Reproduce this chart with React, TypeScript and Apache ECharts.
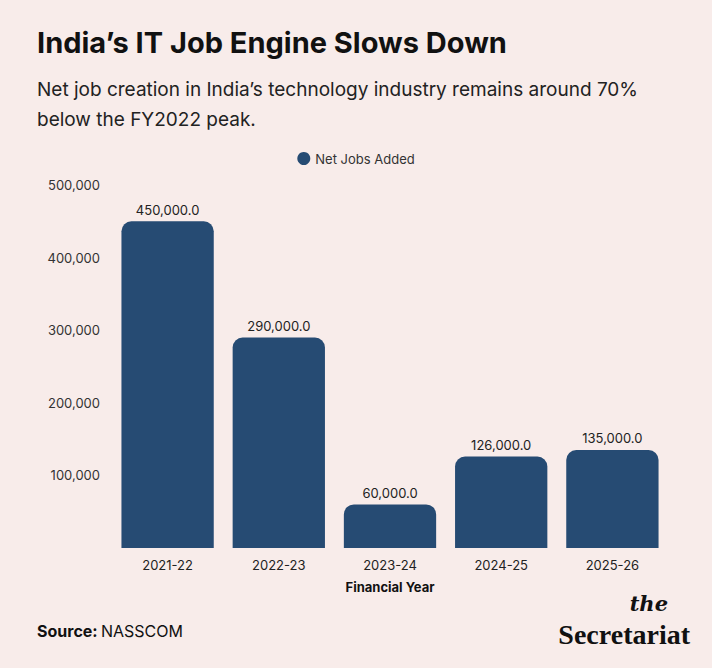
import React from 'react';
import * as echarts from 'echarts';

const categories = ['2021-22', '2022-23', '2023-24', '2024-25', '2025-26'];
const netJobs = [450000, 290000, 60000, 126000, 135000];

const BG = '#f8ecea';
const BAR = '#264b73';
const FONT = 'Inter, "Noto Sans", sans-serif';

export default function App() {
  const ref = React.useRef<HTMLDivElement>(null);

  React.useEffect(() => {
    document.body.style.margin = '0';
    if (!ref.current) return;
    const chart = echarts.init(ref.current, undefined, { renderer: 'svg' });
    const option: echarts.EChartsOption = {
      animation: false,
      backgroundColor: BG,
      textStyle: { fontFamily: FONT },
      legend: {
        top: 147,
        left: 'center',
        icon: 'circle',
        itemWidth: 13,
        itemHeight: 13,
        textStyle: { fontSize: 13, color: '#333' },
        data: ['Net Jobs Added'],
      },
      grid: { left: 112, right: 44, top: 185, bottom: 120 },
      xAxis: {
        type: 'category',
        data: categories,
        name: 'Financial Year',
        nameLocation: 'middle',
        nameGap: 32,
        nameTextStyle: { fontWeight: 'bold', fontSize: 13, color: '#111' },
        axisLine: { show: false },
        axisTick: { show: false },
        axisLabel: { fontSize: 13, color: '#222', margin: 10 },
      },
      yAxis: {
        type: 'value',
        min: 0,
        max: 500000,
        interval: 100000,
        splitLine: { show: false },
        axisLabel: {
          fontSize: 13,
          color: '#333',
          margin: 12,
          formatter: (v: number) => (v === 0 ? '' : v.toLocaleString('en-US')),
        },
      },
      series: [
        {
          name: 'Net Jobs Added',
          type: 'bar',
          data: netJobs,
          barWidth: '83%',
          itemStyle: { color: BAR, borderRadius: [10, 10, 0, 0] },
          label: {
            show: true,
            position: 'top',
            fontSize: 13,
            color: '#222',
            formatter: (p: any) =>
              p.value.toLocaleString('en-US', { minimumFractionDigits: 1, maximumFractionDigits: 1 }),
          },
        },
      ],
      graphic: [
        {
          type: 'text',
          left: 37,
          top: 28,
          style: { text: 'India’s IT Job Engine Slows Down', fontSize: 29, fontWeight: 'bold', fill: '#111', fontFamily: FONT },
        },
        {
          type: 'text',
          left: 37,
          top: 74,
          style: {
            text: 'Net job creation in India’s technology industry remains around 70%\nbelow the FY2022 peak.',
            fontSize: 19,
            lineHeight: 30,
            fill: '#222',
            fontFamily: FONT,
          },
        },
        {
          type: 'text',
          left: 37,
          top: 623,
          style: {
            rich: {
              b: { fontWeight: 'bold', fontSize: 16, fill: '#111', fontFamily: FONT },
              n: { fontSize: 16, fill: '#111', fontFamily: FONT },
            },
            text: '{b|Source:} {n|NASSCOM}',
          },
        },
        {
          type: 'text',
          right: 44,
          top: 593,
          style: { text: 'the', fontSize: 21, fontWeight: 'bold', fontStyle: 'italic', fill: '#111', fontFamily: '"DejaVu Serif", "Liberation Serif", serif' },
        },
        {
          type: 'text',
          right: 22,
          top: 620,
          style: { text: 'Secretariat', fontSize: 28, fontWeight: 'bold', fill: '#111', fontFamily: '"Liberation Serif", serif' },
        },
      ],
    };
    chart.setOption(option);
    return () => chart.dispose();
  }, []);

  return <div ref={ref} style={{ width: 712, height: 668 }} />;
}
